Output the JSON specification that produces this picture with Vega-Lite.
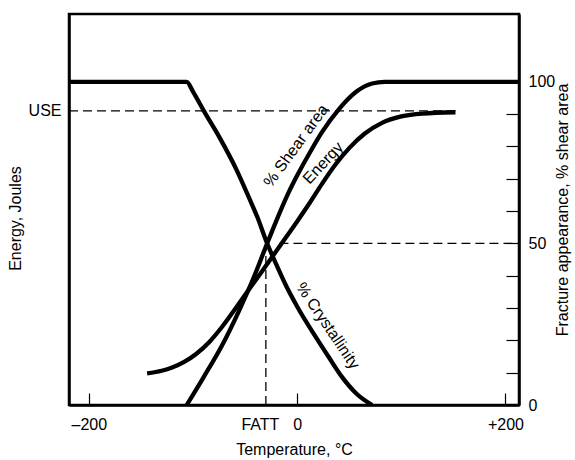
{
  "$schema": "https://vega.github.io/schema/vega-lite/v6.json",
  "width": 450,
  "height": 391,
  "autosize": {"type": "none"},
  "padding": {"left": 69, "top": 14, "right": 56, "bottom": 55},
  "background": "white",
  "config": {
    "font": "Liberation Sans",
    "view": {"stroke": "black", "strokeWidth": 2.5},
    "axis": {
      "grid": false,
      "domainColor": "black",
      "domainWidth": 2.5,
      "tickColor": "black",
      "labelColor": "black",
      "titleColor": "black",
      "labelFont": "Liberation Sans",
      "titleFont": "Liberation Sans",
      "labelFontSize": 16,
      "titleFontSize": 16,
      "titleFontWeight": "normal",
      "labelOverlap": false,
      "labelFlush": false
    }
  },
  "datasets": {
    "curves": [
      {"s": "cryst", "t": -219, "v": 100},
      {"s": "cryst", "t": -106, "v": 100},
      {"s": "cryst", "t": -100, "v": 97},
      {"s": "cryst", "t": -89, "v": 90.7},
      {"s": "cryst", "t": -74, "v": 82.5},
      {"s": "cryst", "t": -58.5, "v": 73},
      {"s": "cryst", "t": -46, "v": 64},
      {"s": "cryst", "t": -38, "v": 58},
      {"s": "cryst", "t": -30, "v": 51},
      {"s": "cryst", "t": -20, "v": 43.5},
      {"s": "cryst", "t": -10, "v": 36.5},
      {"s": "cryst", "t": 0, "v": 30.5},
      {"s": "cryst", "t": 18, "v": 21},
      {"s": "cryst", "t": 30, "v": 15},
      {"s": "cryst", "t": 43, "v": 8.7},
      {"s": "cryst", "t": 57, "v": 3.5},
      {"s": "cryst", "t": 72, "v": 0},
      {"s": "shear", "t": -106, "v": 0},
      {"s": "shear", "t": -90, "v": 8.5},
      {"s": "shear", "t": -72, "v": 18.5},
      {"s": "shear", "t": -56, "v": 29},
      {"s": "shear", "t": -41, "v": 40},
      {"s": "shear", "t": -30, "v": 49},
      {"s": "shear", "t": -20, "v": 57},
      {"s": "shear", "t": -10, "v": 64.5},
      {"s": "shear", "t": 0, "v": 71},
      {"s": "shear", "t": 12, "v": 78},
      {"s": "shear", "t": 24, "v": 84.5},
      {"s": "shear", "t": 40, "v": 91.5},
      {"s": "shear", "t": 57, "v": 97},
      {"s": "shear", "t": 72, "v": 99.5},
      {"s": "shear", "t": 84, "v": 100},
      {"s": "shear", "t": 213, "v": 100},
      {"s": "energy", "t": -144, "v": 9.8},
      {"s": "energy", "t": -130, "v": 10.6},
      {"s": "energy", "t": -120, "v": 11.6},
      {"s": "energy", "t": -108, "v": 13.4},
      {"s": "energy", "t": -97, "v": 15.8},
      {"s": "energy", "t": -84, "v": 19.6},
      {"s": "energy", "t": -72, "v": 24.2},
      {"s": "energy", "t": -60, "v": 29.5},
      {"s": "energy", "t": -49, "v": 34.5},
      {"s": "energy", "t": -35, "v": 40.8},
      {"s": "energy", "t": -24, "v": 45.8},
      {"s": "energy", "t": -10, "v": 52.2},
      {"s": "energy", "t": 0, "v": 56.8},
      {"s": "energy", "t": 12, "v": 62.5},
      {"s": "energy", "t": 24, "v": 68.5},
      {"s": "energy", "t": 37, "v": 74.5},
      {"s": "energy", "t": 50, "v": 79.5},
      {"s": "energy", "t": 65, "v": 84},
      {"s": "energy", "t": 81.5, "v": 87.3},
      {"s": "energy", "t": 100, "v": 89.3},
      {"s": "energy", "t": 120, "v": 90.2},
      {"s": "energy", "t": 152, "v": 90.6}
    ],
    "dashes": [
      {"t1": -219, "t2": 152, "v1": 91, "v2": 91},
      {"t1": -17, "t2": 213, "v1": 50, "v2": 50},
      {"t1": -30, "t2": -30, "v1": 0, "v2": 48}
    ],
    "labels": [
      {"name": "% Shear area", "t": -1, "v": 80.2},
      {"name": "Energy", "t": 25, "v": 74.9},
      {"name": "% Crystallinity", "t": 29.5, "v": 24.5}
    ]
  },
  "layer": [
    {
      "data": {"name": "curves"},
      "mark": {"type": "line", "color": "black", "strokeWidth": 4.3, "interpolate": "monotone"},
      "encoding": {
        "x": {
          "field": "t",
          "type": "quantitative",
          "scale": {"domain": [-219, 213], "nice": false, "zero": false},
          "axis": {
            "orient": "bottom",
            "values": [-200, -30, 0, 200],
            "labelExpr": "datum.value === -30 ? 'FATT' : datum.value === -200 ? '–200' : datum.value === 200 ? '+200' : datum.label",
            "tickSize": -12,
            "tickWidth": 1.2,
            "tickOpacity": {"condition": {"test": "datum.value === -30", "value": 0}, "value": 1},
            "labelOffset": {"condition": {"test": "datum.value === -30", "value": -6}, "value": 0},
            "labelPadding": 23,
            "title": "Temperature, °C",
            "titlePadding": 9
          }
        },
        "y": {
          "field": "v",
          "type": "quantitative",
          "scale": {"domain": [0, 121], "nice": false, "zero": false},
          "axis": {
            "orient": "left",
            "values": [91],
            "labelExpr": "'USE'",
            "ticks": false,
            "labelPadding": 8,
            "title": "Energy, Joules",
            "titlePadding": 5,
            "titleY": 204
          }
        },
        "detail": {"field": "s"}
      }
    },
    {
      "data": {"name": "dashes"},
      "mark": {"type": "rule", "color": "black", "strokeWidth": 1.3, "strokeDash": [9, 5]},
      "encoding": {
        "x": {"field": "t1", "type": "quantitative"},
        "x2": {"field": "t2"},
        "y": {
          "field": "v1",
          "type": "quantitative",
          "axis": {
            "orient": "right",
            "values": [0, 10, 20, 30, 40, 50, 60, 70, 80, 90, 100],
            "labelExpr": "datum.value % 50 === 0 ? datum.label : ''",
            "tickSize": -13,
            "tickWidth": 1.2,
            "labelPadding": 22,
            "title": "Fracture appearance, % shear area",
            "titleAngle": 270,
            "titlePadding": 16
          }
        },
        "y2": {"field": "v2"}
      }
    },
    {
      "data": {"name": "labels"},
      "transform": [{"filter": "datum.name === '% Shear area'"}],
      "mark": {"type": "text", "angle": 306, "fontSize": 16, "font": "Liberation Sans", "align": "center", "baseline": "middle", "color": "black"},
      "encoding": {
        "x": {"field": "t", "type": "quantitative"},
        "y": {"field": "v", "type": "quantitative", "axis": null},
        "text": {"field": "name"}
      }
    },
    {
      "data": {"name": "labels"},
      "transform": [{"filter": "datum.name === 'Energy'"}],
      "mark": {"type": "text", "angle": 313, "fontSize": 16, "font": "Liberation Sans", "align": "center", "baseline": "middle", "color": "black"},
      "encoding": {
        "x": {"field": "t", "type": "quantitative"},
        "y": {"field": "v", "type": "quantitative", "axis": null},
        "text": {"field": "name"}
      }
    },
    {
      "data": {"name": "labels"},
      "transform": [{"filter": "datum.name === '% Crystallinity'"}],
      "mark": {"type": "text", "angle": 56, "fontSize": 16, "font": "Liberation Sans", "align": "center", "baseline": "middle", "color": "black"},
      "encoding": {
        "x": {"field": "t", "type": "quantitative"},
        "y": {"field": "v", "type": "quantitative", "axis": null},
        "text": {"field": "name"}
      }
    }
  ],
  "resolve": {"axis": {"y": "independent"}}
}
